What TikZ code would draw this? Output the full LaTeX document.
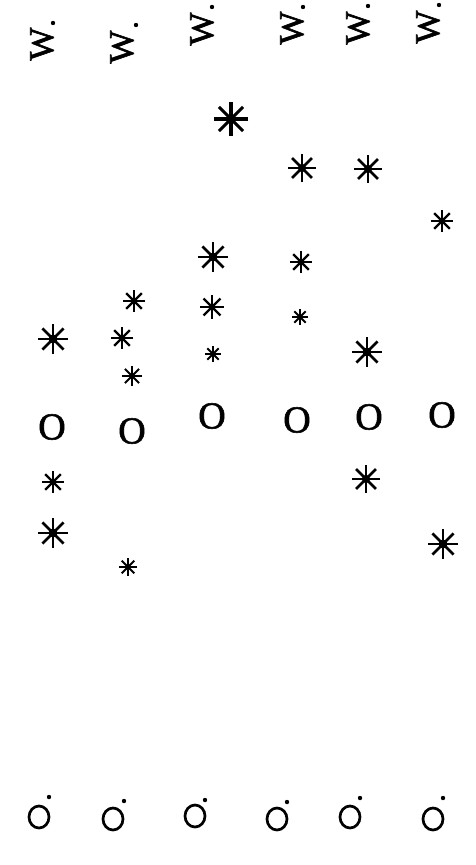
\documentclass[tikz,border=0pt]{standalone}
\usepackage{fontspec}
\setmainfont{Liberation Serif}
\newfontfamily\heavyserif[FakeBold=1.6]{Liberation Serif}
\usetikzlibrary{shapes.geometric}
\begin{document}
\begin{tikzpicture}[x=1pt,y=-1pt,
  wglyph/.style={inner sep=0pt, rotate=90, font=\heavyserif\fontsize{35}{35}\selectfont},
  oglyph/.style={inner sep=0pt, font=\heavyserif\fontsize{38}{38}\selectfont},
  ring/.style={ellipse, draw, line width=2.7pt, minimum width=20pt, minimum height=22pt, inner sep=0pt},
  pdot/.style={circle, fill, inner sep=0pt, minimum size=4.4pt},
  pics/astar/.style={code={
    \foreach \a in {0,45,90,135}
      \draw[line width={0.13pt*#1+0.8pt}] (\a:#1pt) -- (\a+180:#1pt);
    \fill (0,0) circle[radius={0.3pt*#1}];
  }}]
\fill[white] (0,0) rectangle (475,865);
\useasboundingbox (0,0) rectangle (475,865);

% top row: rotated W with dot
\node[wglyph] (w1) at (42,44) {W};
\node[wglyph] (w2) at (122,47) {W};
\node[wglyph] (w3) at (202,29) {W};
\node[wglyph] (w4) at (292,28) {W};
\node[wglyph] (w5) at (358,28) {W};
\node[wglyph] (w6) at (428,27) {W};
\node[pdot] (wd1) at (53,23) {};
\node[pdot] (wd2) at (136,25) {};
\node[pdot] (wd3) at (212,7) {};
\node[pdot] (wd4) at (303,7) {};
\node[pdot] (wd5) at (368,6) {};
\node[pdot] (wd6) at (439,5) {};

% asterisks
\pic (s1) at (231,119) {astar=17};
\pic (s2) at (302,168) {astar=14};
\pic (s3) at (368,169) {astar=14};
\pic (s4) at (442,221) {astar=11};
\pic (s5) at (213,257) {astar=15};
\pic (s6) at (301,262) {astar=11};
\pic (s7) at (134,301) {astar=11};
\pic (s8) at (212,307) {astar=12};
\pic (s9) at (300,317) {astar=8};
\pic (s10) at (53,339) {astar=15};
\pic (s11) at (122,338) {astar=11};
\pic (s12) at (132,376) {astar=10};
\pic (s13) at (213,354) {astar=8};
\pic (s14) at (367,352) {astar=15};
\pic (s15) at (53,482) {astar=11};
\pic (s16) at (366,479) {astar=14};
\pic (s17) at (53,533) {astar=15};
\pic (s18) at (443,544) {astar=15};
\pic (s19) at (128,567) {astar=9};

% middle row of O
\node[oglyph] (o1) at (52,427) {O};
\node[oglyph] (o2) at (132,431) {O};
\node[oglyph] (o3) at (212,416) {O};
\node[oglyph] (o4) at (297,420) {O};
\node[oglyph] (o5) at (369,417) {O};
\node[oglyph] (o6) at (442,415) {O};

% bottom row: rings with dot
\node[ring] (c1) at (39,817) {};
\node[ring] (c2) at (113,819) {};
\node[ring] (c3) at (195,816) {};
\node[ring] (c4) at (277,819) {};
\node[ring] (c5) at (350,817) {};
\node[ring] (c6) at (433,819) {};
\node[pdot] (cd1) at (49,797) {};
\node[pdot] (cd2) at (124,801) {};
\node[pdot] (cd3) at (205,800) {};
\node[pdot] (cd4) at (287,802) {};
\node[pdot] (cd5) at (360,798) {};
\node[pdot] (cd6) at (443,798) {};
\end{tikzpicture}
\end{document}
